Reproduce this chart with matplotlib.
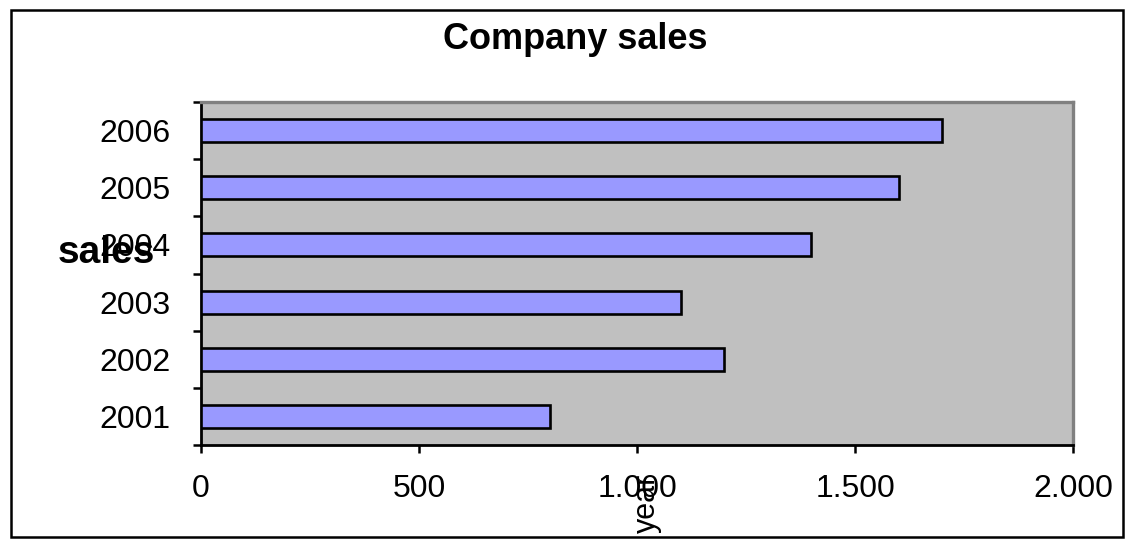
import matplotlib

matplotlib.use("Agg")
import matplotlib.pyplot as plt
from matplotlib.patches import Rectangle

plt.rcParams["font.family"] = ["Liberation Sans", "DejaVu Sans"]

years = ["2001", "2002", "2003", "2004", "2005", "2006"]
sales = [800, 1200, 1100, 1400, 1600, 1700]
x_ticks = [0, 500, 1000, 1500, 2000]
x_tick_labels = ["0", "500", "1.000", "1.500", "2.000"]

W, H = 1134, 540
fig = plt.figure(figsize=(W / 100, H / 100), dpi=100)
fig.patch.set_facecolor("white")

# outer chart frame
fig.patches.append(Rectangle((11 / W, 1 - 537 / H), (1123 - 11) / W, (537 - 10) / H,
                             transform=fig.transFigure, fill=False,
                             edgecolor="black", lw=1.8))

ax = fig.add_axes([201 / W, 1 - 445 / H, (1073 - 201) / W, (445 - 102) / H])
ax.set_facecolor("#C0C0C0")

pos = list(range(len(years)))
ax.barh(pos, sales, height=0.4, color="#9999FF", edgecolor="black", lw=1.9, zorder=3)

ax.set_xlim(0, 2000)
ax.set_ylim(-0.5, len(years) - 0.5)
ax.set_xticks(x_ticks)
ax.set_xticklabels(x_tick_labels, fontsize=23)
ax.tick_params(axis="x", direction="out", length=6, width=1.8, pad=15)

# category boundaries as major ticks, labels on minor ticks at centres
ax.set_yticks([p - 0.5 for p in pos] + [pos[-1] + 0.5])
ax.set_yticklabels([])
ax.tick_params(axis="y", which="major", direction="out", length=6, width=1.8)
ax.set_yticks(pos, minor=True)
ax.set_yticklabels(years, minor=True, fontsize=23)
ax.tick_params(axis="y", which="minor", length=0, pad=22)

for s in ("left", "bottom"):
    ax.spines[s].set_color("black")
    ax.spines[s].set_linewidth(2.0)
for s in ("top", "right"):
    ax.spines[s].set_color("#808080")
    ax.spines[s].set_linewidth(2.4)

fig.text(575 / W, 1 - 49 / H, "Company sales", fontsize=26, fontweight="bold",
         ha="center", va="baseline")
fig.text(106 / W, 1 - 263 / H, "sales", fontsize=28, fontweight="bold",
         ha="center", va="baseline")
fig.text(647 / W, 1 - 533 / H, "year", fontsize=22, rotation=90,
         ha="center", va="bottom")

fig.savefig("out.png", dpi=100)
